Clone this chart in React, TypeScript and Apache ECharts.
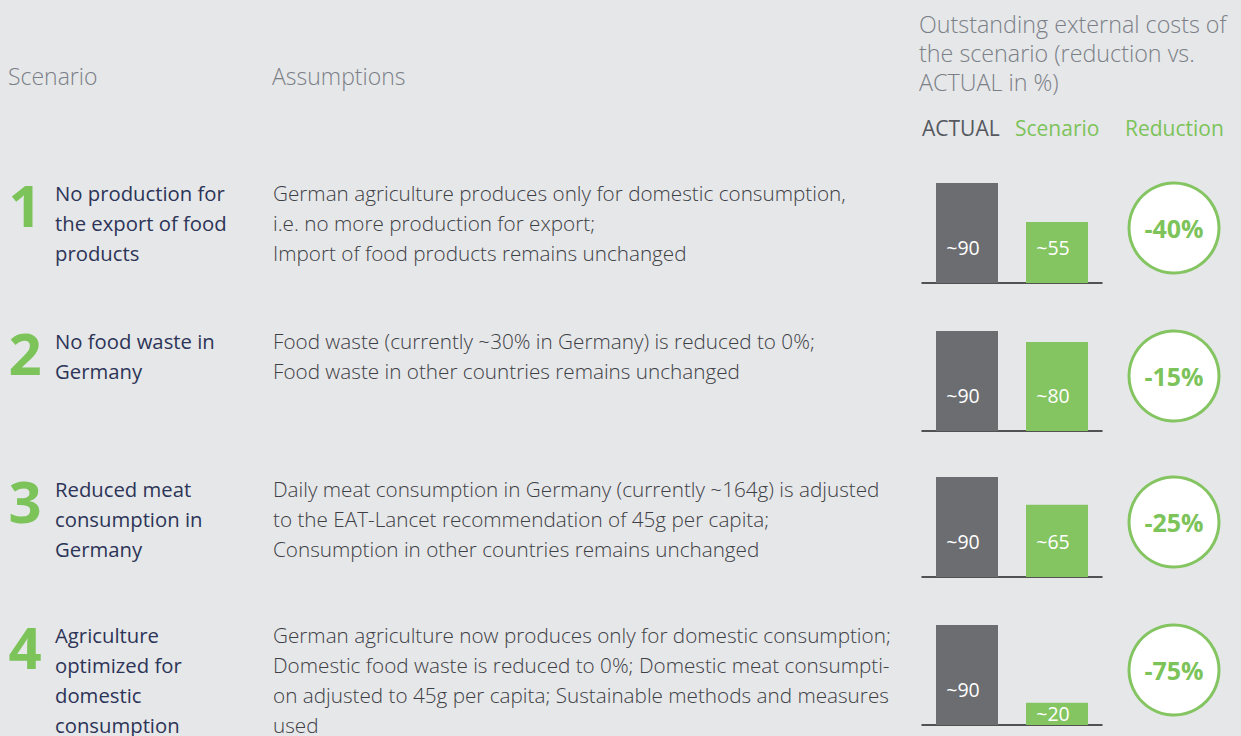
import React, { useEffect, useRef } from "react";
import * as echarts from "echarts";

const scenarioNumbers = ["1", "2", "3", "4"];
const scenarioTitles = [
  ["No production for", "the export of food", "products"],
  ["No food waste in", "Germany"],
  ["Reduced meat", "consumption in", "Germany"],
  ["Agriculture", "optimized for", "domestic", "consumption"],
];
const assumptions = [
  [
    "German agriculture produces only for domestic consumption,",
    "i.e. no more production for export;",
    "Import of food products remains unchanged",
  ],
  [
    "Food waste (currently ~30% in Germany) is reduced to 0%;",
    "Food waste in other countries remains unchanged",
  ],
  [
    "Daily meat consumption in Germany (currently ~164g) is adjusted",
    "to the EAT-Lancet recommendation of 45g per capita;",
    "Consumption in other countries remains unchanged",
  ],
  [
    "German agriculture now produces only for domestic consumption;",
    "Domestic food waste is reduced to 0%; Domestic meat consumpti-",
    "on adjusted to 45g per capita; Sustainable methods and measures",
    "used",
  ],
];
const barCategories = ["ACTUAL", "Scenario"];
const actualValues = [90, 90, 90, 90];
const scenarioValues = [55, 80, 65, 20];
const reductionLabels = ["-40%", "-15%", "-25%", "-75%"];
const headerLines = ["Outstanding external costs of", "the scenario (reduction vs.", "ACTUAL in %)"];

const FONT = "'Open Sans', 'Noto Sans', sans-serif";
const GREEN = "#84c562";
const GREEN_TEXT = "#7cc35a";
const GREY_BAR = "#6c6d71";
const NAVY = "#2c3457";
const BODY = "#3d4045";
const HEAD = "#7b8087";

// layout
const rowFirstLine = [193, 341, 489, 635];
const baselines = [283, 431, 577, 725];
const LINE_H = 30;

export default function App() {
  const ref = useRef<HTMLDivElement>(null);
  useEffect(() => {
    document.body.style.margin = "0";
    document.body.style.background = "#e6e7e9";
    const chart = echarts.init(ref.current!, null, { renderer: "svg" });

    const grids: any[] = [];
    const xAxes: any[] = [];
    const yAxes: any[] = [];
    const series: any[] = [];
    const graphics: any[] = [];

    // headers
    graphics.push({
      type: "text", x: 8, y: 76,
      style: { text: "Scenario", fill: HEAD, fontSize: 23, fontFamily: FONT, fontWeight: 300, textVerticalAlign: "middle" },
    });
    graphics.push({
      type: "text", x: 272, y: 76,
      style: { text: "Assumptions", fill: HEAD, fontSize: 23, fontFamily: FONT, fontWeight: 300, textVerticalAlign: "middle" },
    });
    headerLines.forEach((t, i) => {
      graphics.push({
        type: "text", x: 919, y: 24 + i * 29,
        style: { text: t, fill: HEAD, fontSize: 23.3, fontFamily: FONT, fontWeight: 300, textVerticalAlign: "middle" },
      });
    });
    graphics.push({
      type: "text", x: 922, y: 128,
      style: { text: "ACTUAL", fill: "#55595f", fontSize: 21, fontFamily: FONT, textVerticalAlign: "middle" },
    });
    graphics.push({
      type: "text", x: 1015, y: 128,
      style: { text: "Scenario", fill: GREEN_TEXT, fontSize: 21, fontFamily: FONT, textVerticalAlign: "middle" },
    });
    graphics.push({
      type: "text", x: 1125, y: 128,
      style: { text: "Reduction", fill: GREEN_TEXT, fontSize: 21, fontFamily: FONT, textVerticalAlign: "middle" },
    });

    scenarioNumbers.forEach((num, i) => {
      const y0 = rowFirstLine[i];
      graphics.push({
        type: "text", x: 25, y: y0 + 11,
        style: { text: num, fill: GREEN_TEXT, fontSize: 58, fontWeight: "bold", fontFamily: FONT, textAlign: "center", textVerticalAlign: "middle" },
      });
      scenarioTitles[i].forEach((t, j) => {
        graphics.push({
          type: "text", x: 55, y: y0 + j * LINE_H,
          style: { text: t, fill: NAVY, fontSize: 20.3, fontFamily: FONT, textVerticalAlign: "middle" },
        });
      });
      assumptions[i].forEach((t, j) => {
        graphics.push({
          type: "text", x: 273, y: y0 + j * LINE_H,
          style: { text: t, fill: BODY, fontSize: 20.7, fontFamily: FONT, fontWeight: 300, textVerticalAlign: "middle" },
        });
      });
      // reduction circle
      const cy = baselines[i] - 55;
      graphics.push({
        type: "circle",
        shape: { cx: 1174, cy, r: 45 },
        style: { fill: "#ffffff", stroke: GREEN, lineWidth: 3 },
      });
      graphics.push({
        type: "text", x: 1174, y: cy,
        style: { text: reductionLabels[i], fill: GREEN_TEXT, fontSize: 25, fontWeight: "bold", fontFamily: FONT, textAlign: "center", textVerticalAlign: "middle" },
      });

      // bar grid
      grids.push({ left: 922, width: 180, top: baselines[i] - 100, height: 100 });
      xAxes.push({
        type: "category", gridIndex: i, data: barCategories,
        axisLine: { show: true, lineStyle: { color: "#222", width: 1.5 } },
        axisTick: { show: false }, axisLabel: { show: false },
      });
      yAxes.push({ type: "value", gridIndex: i, min: 0, max: 90, show: false, splitLine: { show: false } });
      const mkLabel = (v: number) => ({
        show: true,
        position: "insideBottom",
        distance: v < 30 ? 2 : 26,
        offset: [-4, 0],
        formatter: "~{c}",
        color: "#ffffff",
        fontSize: 19.5,
        fontFamily: FONT,
      });
      series.push({
        type: "bar", xAxisIndex: i, yAxisIndex: i, barWidth: 62,
        data: [
          { value: actualValues[i], itemStyle: { color: GREY_BAR }, label: mkLabel(actualValues[i]) },
          { value: scenarioValues[i], itemStyle: { color: GREEN }, label: mkLabel(scenarioValues[i]) },
        ],
      });
    });

    chart.setOption({
      animation: false,
      backgroundColor: "#e6e7e9",
      grid: grids,
      xAxis: xAxes,
      yAxis: yAxes,
      series,
      graphic: graphics,
    });
    return () => chart.dispose();
  }, []);
  return <div ref={ref} style={{ width: 1241, height: 736 }} />;
}
